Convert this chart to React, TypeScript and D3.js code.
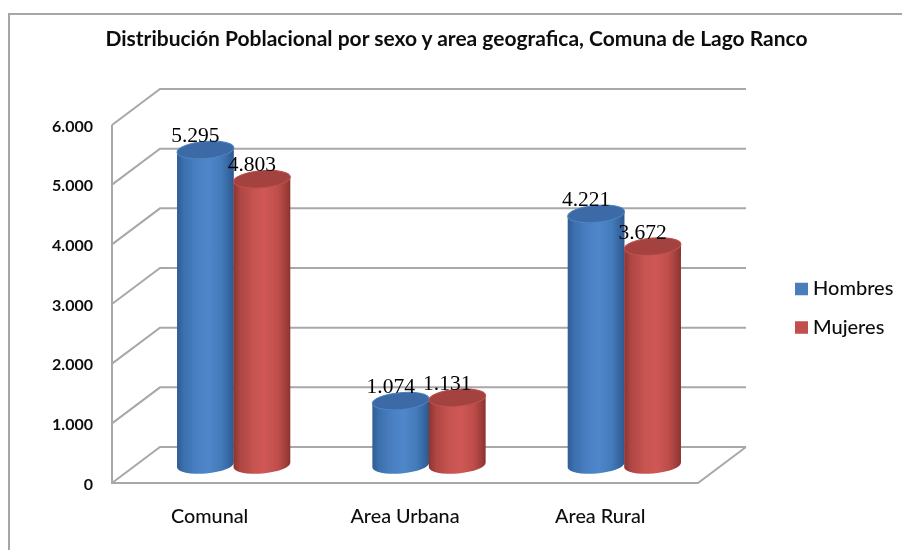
import { useEffect, useRef } from 'react';
import * as d3 from 'd3';

const categories = ['Comunal', 'Area Urbana', 'Area Rural'];
const seriesNames = ['Hombres', 'Mujeres'];
const hombres = [5295, 1074, 4221];
const mujeres = [4803, 1131, 3672];
const yTicks = [0, 1000, 2000, 3000, 4000, 5000, 6000];
const title = 'Distribución Poblacional por sexo y area geografica, Comuna de Lago Ranco';

const uiFont = 'Lato, sans-serif';
const gridColor = '#a8a8a8';

const blueStops = [[0, '#2f5d94'], [0.12, '#3c70ae'], [0.35, '#4a80c3'], [0.55, '#4f87ca'], [0.78, '#437ab9'], [0.93, '#34649e'], [1, '#2c578c']];
const redStops = [[0, '#8c3431'], [0.12, '#ae4643'], [0.35, '#c65350'], [0.55, '#cf5855'], [0.78, '#bf4e4b'], [0.93, '#9e3d3a'], [1, '#8a3330']];

function App() {
  const svgRef = useRef<SVGSVGElement>(null);

  useEffect(() => {
    const width = 902;
    const height = 550;
    const depth = { x: 48, y: 36 };

    const svg = d3.select(svgRef.current);
    svg.selectAll('*').remove();
    svg.attr('width', width).attr('height', height)
      .style('position', 'absolute').style('left', 0).style('top', 0)
      .style('background', '#fff');

    const defs = svg.append('defs');
    const addGradient = (id: string, stops: any[]) => {
      const g = defs.append('linearGradient').attr('id', id);
      stops.forEach((s) => g.append('stop').attr('offset', s[0]).attr('stop-color', s[1]));
    };
    addGradient('body-0', blueStops);
    addGradient('body-1', redStops);
    defs.append('filter').attr('id', 'soft').append('feGaussianBlur').attr('stdDeviation', 0.45);

    const root = svg.append('g').attr('filter', 'url(#soft)');

    // outer frame, open at right and bottom like the crop
    root.append('path')
      .attr('d', `M9,${height} V14 H${width}`)
      .attr('fill', 'none').attr('stroke', '#a6a6a6').attr('stroke-width', 2);

    root.append('text')
      .attr('x', 456.5).attr('y', 46).attr('text-anchor', 'middle')
      .style('font-family', uiFont).style('font-size', '21px').style('font-weight', 700)
      .attr('fill', '#111').text(title);

    // scales
    const x0 = d3.scaleBand().domain(categories).range([112, 698]);
    const x1 = d3.scaleBand().domain(seriesNames).range([-56.5, 56.5]);
    const yFront = d3.scaleLinear().domain([0, 6000]).range([483, 125]);
    const yBar = d3.scaleLinear().domain([0, 6000]).range([465, 108]);
    const numFmt = d3.formatLocale({ decimal: ',', thousands: '.', grouping: [3], currency: ['', ''] }).format(',');

    // walls
    const walls = root.append('g').attr('fill', 'none').attr('stroke', gridColor).attr('stroke-width', 2);
    yTicks.forEach((t) => {
      const y = yFront(t);
      walls.append('path').attr('d', `M112,${y} L${112 + depth.x},${y - depth.y} H746`);
    });
    walls.append('path').attr('d', `M112,${yFront(6000)} V${yFront(0)} H698 L746,${yFront(0) - depth.y}`);

    // y axis
    const axis = root.append('g').attr('transform', 'translate(112,1)')
      .call(d3.axisLeft(yFront).tickValues(yTicks).tickFormat((d) => numFmt(d as number)).tickSize(0).tickPadding(19));
    axis.select('.domain').remove();
    axis.selectAll('text')
      .style('font-family', uiFont).style('font-size', '16px').style('font-weight', 700).attr('fill', '#111');

    // x axis
    const xAxis = root.append('g').attr('transform', 'translate(0,483)')
      .call(d3.axisBottom(x0).tickSize(0).tickPadding(26));
    xAxis.select('.domain').remove();
    xAxis.selectAll('text')
      .style('font-family', uiFont).style('font-size', '19.8px').style('font-weight', 500).attr('fill', '#111');

    // cylinders
    const rx = 28.5;
    const ry = 8.5;
    const tilt = -5;
    const dx = rx * Math.cos((tilt * Math.PI) / 180);
    const dy = rx * Math.sin((tilt * Math.PI) / 180);
    const values = [hombres, mujeres];
    const topColors = ['#3a6ba6', '#a4423f'];
    const rimColors = ['#4a7fbe', '#bb4d4a'];

    seriesNames.forEach((name, s) => {
      const group = root.append('g');
      categories.forEach((cat, i) => {
        const cx = x0(cat)! + x0.bandwidth() / 2 + depth.x / 2 + x1(name)! + x1.bandwidth() / 2;
        const yb = yBar(0);
        const yt = yBar(values[s][i]);
        group.append('path')
          .attr('d', `M${cx - dx},${yt - dy} L${cx - dx},${yb - dy}
            A${rx},${ry} ${tilt} 0 0 ${cx + dx},${yb + dy}
            L${cx + dx},${yt + dy}
            A${rx},${ry} ${tilt} 0 1 ${cx - dx},${yt - dy} Z`)
          .attr('fill', `url(#body-${s})`);
        group.append('ellipse')
          .attr('cx', cx).attr('cy', yt).attr('rx', rx).attr('ry', ry)
          .attr('transform', `rotate(${tilt} ${cx} ${yt})`)
          .attr('fill', topColors[s]).attr('stroke', rimColors[s]).attr('stroke-width', 1);
      });
    });

    // value labels on top of every bar
    seriesNames.forEach((name, s) => {
      categories.forEach((cat, i) => {
        const cx = x0(cat)! + x0.bandwidth() / 2 + depth.x / 2 + x1(name)! + x1.bandwidth() / 2;
        root.append('text')
          .attr('x', cx - 10).attr('y', yBar(values[s][i]) - 8).attr('text-anchor', 'middle')
          .style('font-family', '"Liberation Serif", serif').style('font-size', '21.5px')
          .attr('fill', '#000').text(numFmt(values[s][i]));
      });
    });

    // legend
    const legendY = d3.scaleBand().domain(seriesNames).range([270, 347]);
    const legendColors = ['#4a7ebb', '#c0504d'];
    seriesNames.forEach((name, s) => {
      const y = legendY(name)! + legendY.bandwidth() / 2;
      root.append('rect').attr('x', 795).attr('y', y - 6.5).attr('width', 13).attr('height', 12.5).attr('fill', legendColors[s]);
      root.append('text').attr('x', 813).attr('y', y + 6)
        .style('font-family', uiFont).style('font-size', '20px').style('font-weight', 500)
        .attr('fill', '#111').text(name);
    });
  }, []);

  return <svg ref={svgRef}></svg>;
}

export default App;
